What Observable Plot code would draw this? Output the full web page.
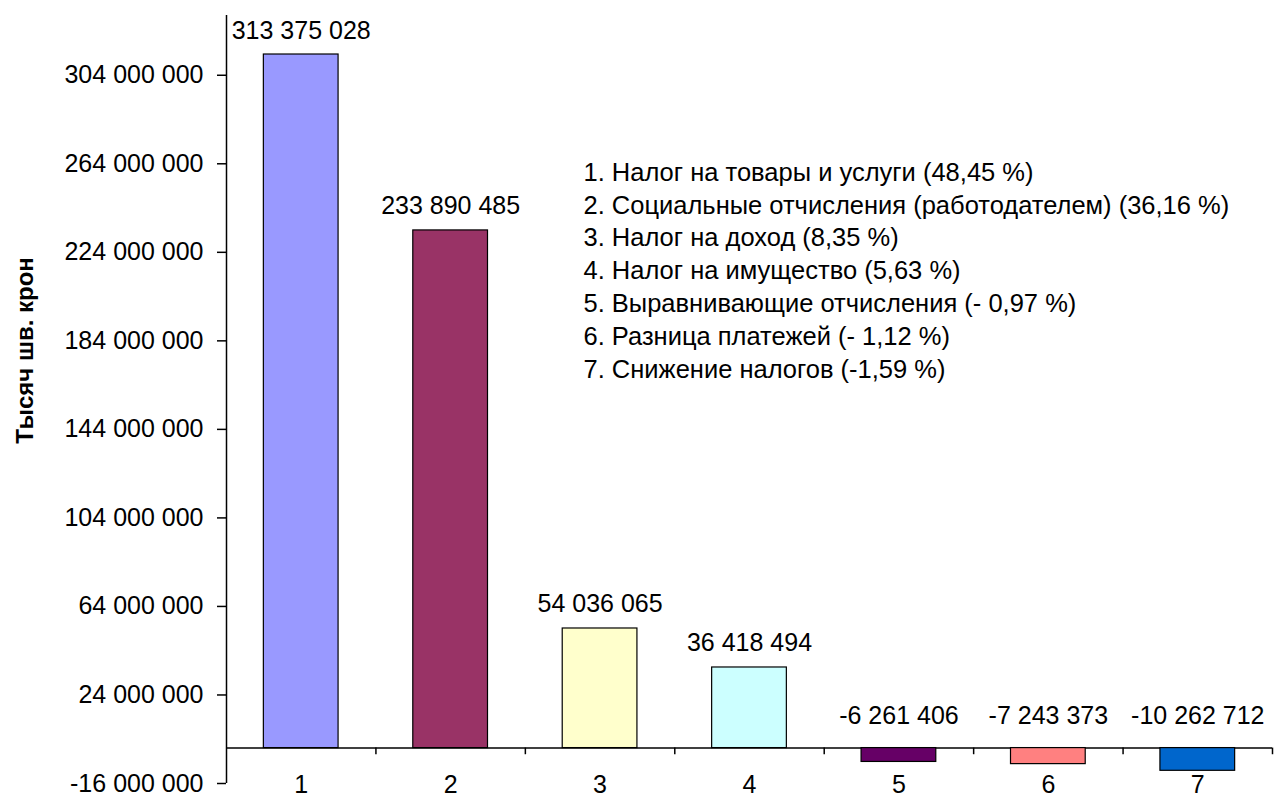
<!DOCTYPE html>
<html>
<head>
<meta charset="utf-8">
<script src="https://cdn.jsdelivr.net/npm/d3@7"></script>
<script src="https://cdn.jsdelivr.net/npm/@observablehq/plot@0.6"></script>
<style>
  html, body { margin: 0; padding: 0; background: #fff; }
  #chart svg { display: block; }
</style>
</head>
<body>
<div id="chart"></div>
<script>
const categories = [1, 2, 3, 4, 5, 6, 7];
const values = [313375028, 233890485, 54036065, 36418494, -6261406, -7243373, -10262712];
const colors = ["#9999FF", "#993366", "#FFFFCC", "#CCFFFF", "#660066", "#FF8080", "#0066CC"];
const legendLines = [
  "1. Налог на товары и услуги (48,45 %)",
  "2. Социальные отчисления (работодателем) (36,16 %)",
  "3. Налог на доход (8,35 %)",
  "4. Налог на имущество (5,63 %)",
  "5. Выравнивающие отчисления (- 0,97 %)",
  "6. Разница платежей (- 1,12 %)",
  "7. Снижение налогов (-1,59 %)"
];
const yTicks = [-16000000, 24000000, 64000000, 104000000, 144000000, 184000000, 224000000, 264000000, 304000000];
const yAxisLabel = "Тысяч шв. крон";

const data = categories.map((c, i) => ({cat: c, value: values[i], color: colors[i]}));
const boundaries = categories.map(c => c + 0.5);
const locale = d3.formatLocale({decimal: ",", thousands: " ", grouping: [3], currency: ["", ""], minus: "-"});
const fmt = locale.format(",d");
const font = "'Liberation Sans', Arial, sans-serif";
const barHalf = 0.25;

const chart = Plot.plot({
  width: 1278,
  height: 797,
  marginLeft: 226,
  marginRight: 6,
  marginTop: 15,
  marginBottom: 14,
  style: {fontFamily: font, fontSize: "25px", color: "#000", background: "#fff"},
  x: {domain: [0.5, 7.5], axis: null},
  y: {domain: [-16000000, 331000000], axis: null},
  color: {type: "identity"},
  marks: [
    Plot.ruleY([0], {stroke: "#000", strokeWidth: 1.5}),
    Plot.ruleX(boundaries, {x: d => d, y1: 0, y2: -3000000, stroke: "#000", strokeWidth: 1.5}),
    Plot.ruleX([0.5], {stroke: "#000", strokeWidth: 1.5}),
    Plot.rectY(data, {x1: d => d.cat - barHalf, x2: d => d.cat + barHalf, y: "value", fill: "color", stroke: "#000", strokeWidth: 1.2}),
    Plot.axisY({ticks: yTicks, tickFormat: fmt, tickSize: 9, tickPadding: 14, fontSize: 25, label: null, stroke: "#000", strokeWidth: 1.5}),
    Plot.axisX({ticks: categories, tickFormat: d => String(d), tickSize: 0, tickPadding: 0, dy: -8, fontSize: 25, label: null}),
    Plot.text(data.filter(d => d.value >= 0), {x: "cat", y: "value", text: d => fmt(d.value), dy: -24, lineAnchor: "middle", fontSize: 25, fill: "#000"}),
    Plot.text(data.filter(d => d.value < 0), {x: "cat", y: 0, text: d => fmt(d.value), dy: -32, lineAnchor: "middle", fontSize: 25, fill: "#000"}),
    Plot.text([legendLines.join("\n")], {frameAnchor: "top-left", dx: 357, dy: 142, textAnchor: "start", lineAnchor: "top", lineHeight: 1.286, fontSize: 25.5, fill: "#000"}),
    Plot.text([yAxisLabel], {frameAnchor: "left", dx: -201, dy: -49, rotate: -90, textAnchor: "middle", lineAnchor: "middle", fontSize: 24, fontWeight: "bold", fill: "#000"})
  ]
});
document.getElementById("chart").appendChild(chart);
</script>
</body>
</html>
